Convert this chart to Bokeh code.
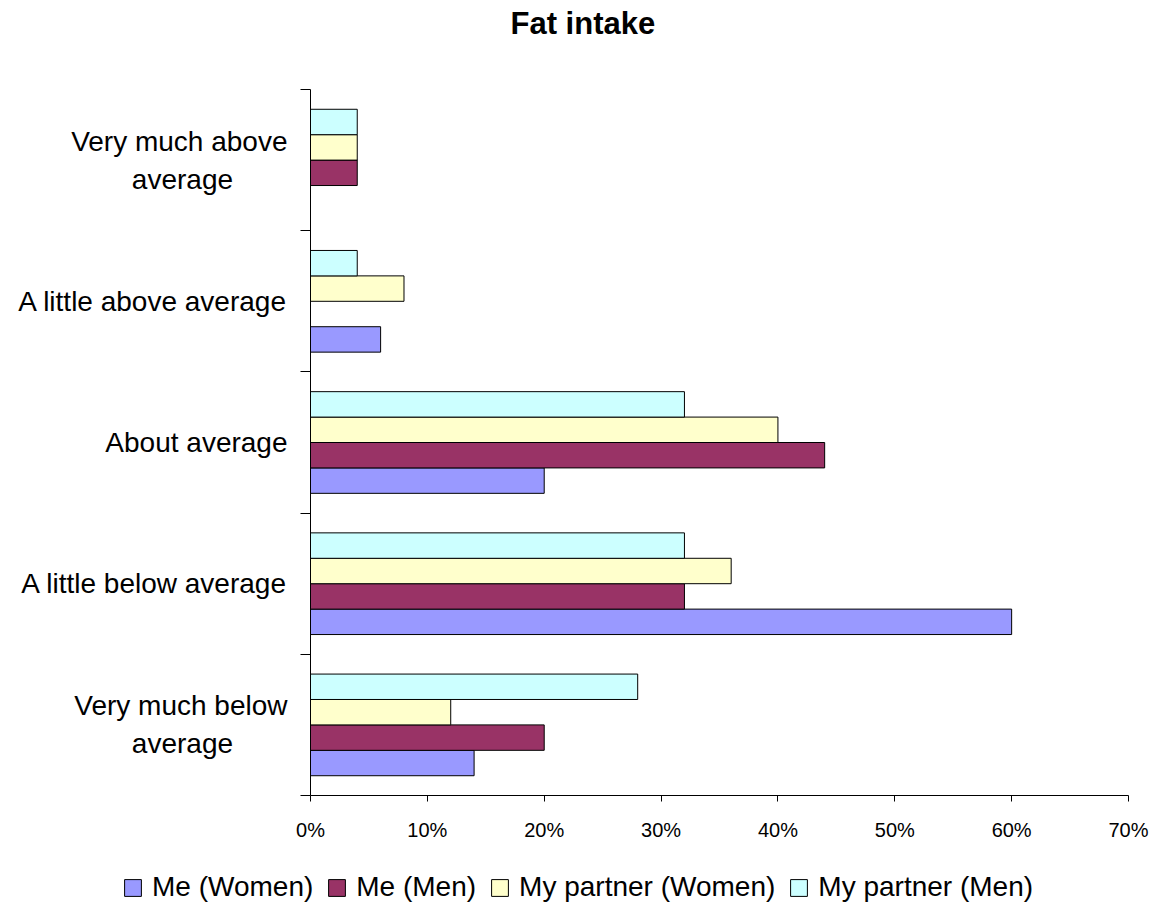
from bokeh.plotting import figure
from bokeh.models import (ColumnDataSource, FixedTicker, PrintfTickFormatter,
                          Title, Range1d, Legend)
from bokeh.layouts import column
from bokeh.embed import file_html
from bokeh.resources import INLINE

# ---------------- data ----------------
categories = ["Very much below\naverage", "A little below average", "About average",
              "A little above average", "Very much above\naverage"]
series_names = ["Me (Women)", "Me (Men)", "My partner (Women)", "My partner (Men)"]
me_women = [14, 60, 20, 6, 0]
me_men = [20, 32, 44, 0, 4]
partner_women = [12, 36, 40, 8, 4]
partner_men = [28, 32, 32, 4, 4]
x_ticks = [0, 10, 20, 30, 40, 50, 60, 70]
title_text = "Fat intake"

series_values = [me_women, me_men, partner_women, partner_men]
colors = ["#9999FF", "#993366", "#FFFFCC", "#CCFFFF"]

FONT = "Liberation Sans"
NBSP = "\u00a0"


def display_label(t):
    # centre the short second line under the first one (Excel-style)
    if "\n" in t:
        a, b = t.split("\n")
        return a + "\n" + b + NBSP * 7
    return t


p = figure(width=1150, height=845, x_range=Range1d(0, 70), y_range=Range1d(0, len(categories)),
           output_backend="svg", toolbar_location=None,
           min_border_left=310, min_border_right=22, min_border_top=87, min_border_bottom=50)
p.frame_align = False
p.outline_line_color = None
p.xgrid.visible = False
p.ygrid.visible = False
p.background_fill_color = "white"
p.border_fill_color = "white"

# legend strip below the chart
lf = figure(width=1150, height=58, x_range=Range1d(0, 70), y_range=Range1d(1000, 1001),
            output_backend="svg", toolbar_location=None, min_border=0,
            x_axis_type=None, y_axis_type=None)
lf.frame_align = False
lf.outline_line_color = None
lf.background_fill_color = "white"
lf.border_fill_color = "white"

bar_h = 0.18
n = len(series_names)
items = []
for i, (name, vals, color) in enumerate(zip(series_names, series_values, colors)):
    ys = [c + 0.5 + (i - (n - 1) / 2) * bar_h for c in range(len(categories))]
    src = ColumnDataSource(dict(y=ys, right=vals, cat=categories))
    style = dict(fill_color=color, line_color="black", line_width=1)
    p.hbar(y="y", left=0, right="right", height=bar_h, source=src, **style)
    # legend key: same data, not drawn in the strip itself
    r = lf.hbar(y="y", left=0, right="right", height=bar_h, source=src, visible=False, **style)
    items.append((name, [r]))

# x axis
p.xaxis.ticker = FixedTicker(ticks=x_ticks)
p.xaxis.formatter = PrintfTickFormatter(format="%d%%")
p.xaxis.major_label_text_font = FONT
p.xaxis.major_label_text_font_size = "20px"
p.xaxis.major_label_text_color = "black"
p.xaxis.axis_line_color = "black"
p.xaxis.major_tick_line_color = "black"
p.xaxis.major_tick_out = 6
p.xaxis.major_tick_in = 0
p.xaxis.minor_tick_line_color = None
p.xaxis.major_label_standoff = 17

# y axis: labels at category centres, tick marks at category boundaries
centers = [c + 0.5 for c in range(len(categories))]
p.yaxis.ticker = FixedTicker(ticks=centers, minor_ticks=list(range(len(categories) + 1)))
p.yaxis.major_label_overrides = {c: display_label(t) for c, t in zip(centers, categories)}
p.yaxis.major_label_text_font = FONT
p.yaxis.major_label_text_font_size = "28px"
p.yaxis.major_label_text_color = "black"
p.yaxis.major_label_text_line_height = 1.22
p.yaxis.major_label_standoff = 13
p.yaxis.axis_line_color = "black"
p.yaxis.major_tick_line_color = None
p.yaxis.major_tick_out = 10
p.yaxis.major_tick_in = 0
p.yaxis.minor_tick_line_color = "black"
p.yaxis.minor_tick_out = 10
p.yaxis.minor_tick_in = 0

# title (trailing empty line lifts it towards the top of the page)
p.title = Title(text=title_text + "\n", align="left", offset=200, text_font=FONT,
                text_font_size="31px", text_font_style="bold", text_color="black",
                text_line_height=1.3, standoff=6)

lg = Legend(items=items, orientation="horizontal", location=(122, 0))
lg.label_text_font = FONT
lg.label_text_font_size = "28px"
lg.label_text_color = "black"
lg.glyph_width = 21
lg.glyph_height = 21
lg.label_standoff = 9
lg.spacing = 13
lg.padding = 0
lg.margin = 0
lg.border_line_color = None
lg.background_fill_alpha = 0
lf.add_layout(lg, "center")

layout = column(p, lf, spacing=0)
open("out.html", "w").write(file_html(layout, INLINE))
